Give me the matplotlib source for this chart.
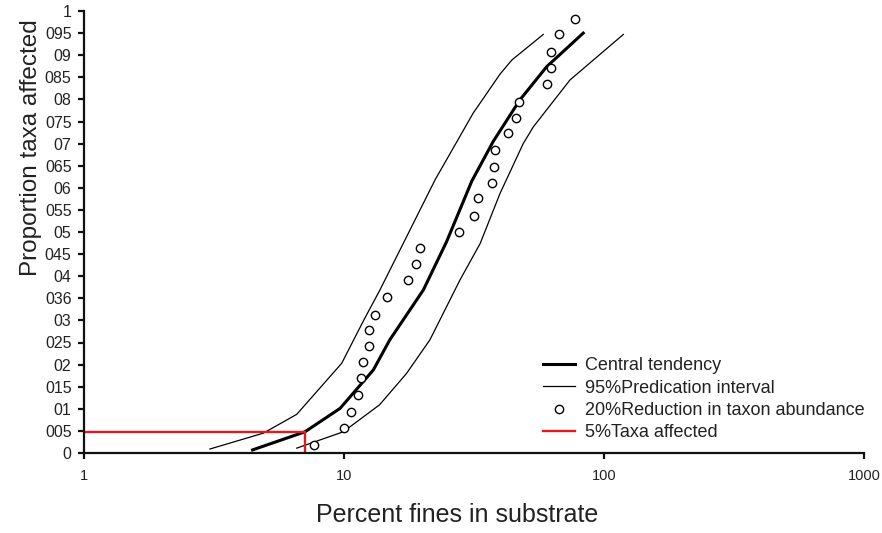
import numpy as np
import matplotlib
matplotlib.use('Agg')
import matplotlib.pyplot as plt

plt.rcParams['font.family'] = ['Liberation Sans', 'DejaVu Sans']

####### values
# central tendency (thick line)
central_x = [4.45, 7.08, 9.66, 12.97, 15.0, 20.2, 24.8, 31.0, 37.5, 47.5, 60.2, 83.2]
central_y = [0.007, 0.048, 0.101, 0.188, 0.256, 0.369, 0.478, 0.615, 0.705, 0.799, 0.874, 0.95]

# 95% prediction interval, upper (left) and lower (right) bounds
upper_x = [3.05, 4.9, 6.58, 9.8, 11.9, 13.75, 17.4, 22.4, 31.4, 39.8, 44.2, 58.4]
upper_y = [0.009, 0.045, 0.0875, 0.203, 0.30, 0.369, 0.489, 0.618, 0.769, 0.857, 0.889, 0.947]
lower_x = [6.58, 9.94, 13.7, 17.4, 21.4, 27.9, 33.4, 39.8, 48.9, 53.5, 74.0, 118.7]
lower_y = [0.011, 0.048, 0.109, 0.18, 0.256, 0.391, 0.474, 0.587, 0.70, 0.738, 0.844, 0.947]

# 20% reduction in taxon abundance (open circles)
taxa_x = [7.7, 10.0, 10.6, 11.3, 11.6, 11.8, 12.5, 12.5, 13.2, 14.6, 17.6, 18.9, 19.6, 27.6,
          31.7, 32.7, 37.2, 37.9, 38.1, 42.6, 45.8, 47.2, 60.6, 62.7, 62.5, 67.1, 77.3]
taxa_y = [0.017, 0.056, 0.093, 0.131, 0.169, 0.205, 0.243, 0.278, 0.312, 0.354, 0.391, 0.427,
          0.464, 0.499, 0.537, 0.576, 0.611, 0.648, 0.686, 0.723, 0.757, 0.793, 0.834, 0.870,
          0.908, 0.947, 0.981]

# 5% taxa affected
hc5_x = 7.08
hc5_y = 0.047

y_ticks = np.arange(0, 1.0001, 0.05)
y_labels = ['0', '005', '01', '015', '02', '025', '03', '036', '04', '045', '05',
            '055', '06', '065', '07', '075', '08', '085', '09', '095', '1']
x_ticks = [1, 10, 100, 1000]
x_labels = ['1', '10', '100', '1000']

labels = ['Central tendency', '95%Predication interval',
          '20%Reduction in taxon abundance', '5%Taxa affected']

###### plot
fig = plt.figure(figsize=(8.82, 5.33), dpi=100)
ax = fig.add_axes([84/882, 1 - 453/533, 780/882, 442/533])

ax.plot(central_x, central_y, color='black', lw=2.2, label=labels[0])
ax.plot(upper_x, upper_y, color='black', lw=0.9, label=labels[1])
ax.plot(lower_x, lower_y, color='black', lw=0.9)
ax.plot(taxa_x, taxa_y, ls='none', marker='o', ms=6, mfc='white', mec='black', mew=1.0,
        label=labels[2])
ax.plot([1, hc5_x, hc5_x], [hc5_y, hc5_y, 0], color='#e3191c', lw=1.7, label=labels[3])

ax.set_xscale('log')
ax.set_xlim(1, 1000)
ax.set_ylim(0, 1)
ax.set_xticks(x_ticks)
ax.set_xticklabels(x_labels)
ax.xaxis.set_minor_locator(matplotlib.ticker.NullLocator())
ax.set_yticks(y_ticks)
ax.set_yticklabels(y_labels)

for s in ['top', 'right']:
    ax.spines[s].set_visible(False)
for s in ['left', 'bottom']:
    ax.spines[s].set_linewidth(1.6)
    ax.spines[s].set_color('#111111')

ax.tick_params(axis='both', direction='out', length=4.5, width=1.6, color='#111111',
               labelcolor='#222222')
ax.tick_params(axis='y', pad=4.5, labelsize=11.5)
ax.tick_params(axis='x', pad=7, labelsize=10.5)

ax.set_xlabel('Percent fines in substrate', fontsize=18, color='#222222')
ax.set_ylabel('Proportion taxa affected', fontsize=17.5, color='#222222')
ax.xaxis.set_label_coords(0.479, -0.113)
ax.yaxis.set_label_coords(-0.054, 0.69)

ax.legend(loc='upper left', bbox_to_anchor=(0.588, 0.217), frameon=False, fontsize=13,
          handlelength=1.8, handletextpad=0.55, labelspacing=0.3, borderpad=0,
          borderaxespad=0, labelcolor='#222222')

fig.savefig('out.png', dpi=100)
